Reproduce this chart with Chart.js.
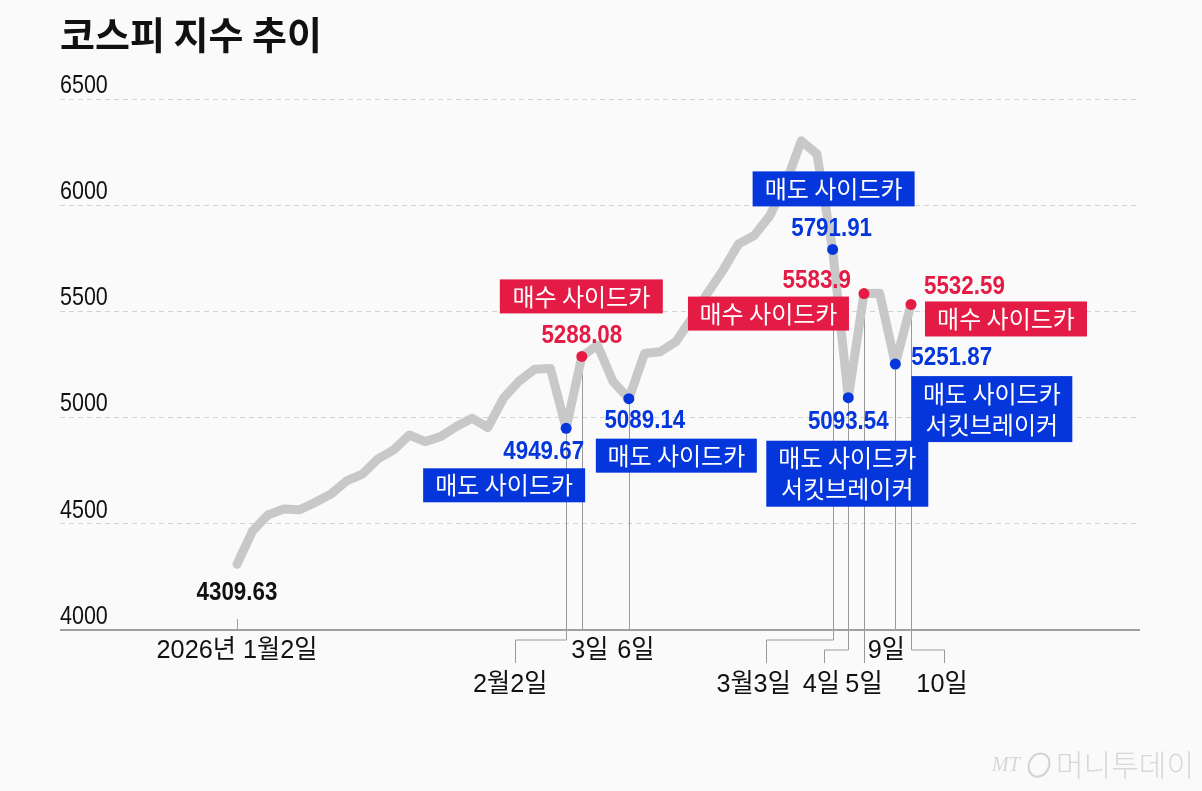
<!DOCTYPE html>
<html>
<head>
<meta charset="utf-8">
<title>코스피 지수 추이</title>
<script src="https://cdn.jsdelivr.net/npm/chart.js@4.4.1/dist/chart.umd.min.js"></script>
<style>
  body { margin: 0; background: #fafafa; }
  #wrap { position: relative; width: 1202px; height: 791px; }
</style>
</head>
<body>
<div id="wrap"><canvas id="kospiChart"></canvas></div>
<script>
// trading days, 2026-01-02 .. 2026-03-10
const dates = [
  '1/2', '1/5', '1/6', '1/7', '1/8', '1/9', '1/12', '1/13', '1/14', '1/15', '1/16',
  '1/19', '1/20', '1/21', '1/22', '1/23', '1/26', '1/27', '1/28', '1/29', '1/30',
  '2/2', '2/3', '2/4', '2/5', '2/6', '2/9', '2/10', '2/11', '2/12', '2/13',
  '2/19', '2/20', '2/23', '2/24', '2/25', '2/26', '2/27',
  '3/3', '3/4', '3/5', '3/6', '3/9', '3/10'
];
const kospi = [
  4309.63, 4467, 4543, 4570, 4566, 4601, 4640, 4702, 4734, 4806, 4848,
  4918, 4887, 4911, 4958, 4997, 4953, 5091, 5172, 5228, 5231,
  4949.67, 5288.08, 5341, 5169, 5089.14, 5302, 5310, 5357, 5466, 5584,
  5693, 5818, 5857, 5951, 6100, 6303, 6241,
  5791.91, 5093.54, 5583.9, 5585, 5251.87, 5532.59
];
const yTicks = [4000, 4500, 5000, 5500, 6000, 6500];

// sidecar / circuit breaker days
const markIdx  = [21, 22, 25, 38, 39, 40, 42, 43];
const markKind = ['sell', 'buy', 'sell', 'sell', 'sell', 'buy', 'sell', 'buy'];
const markBox  = [
  '매도 사이드카', '매수 사이드카', '매도 사이드카', '매도 사이드카',
  '매도 사이드카\n서킷브레이커', '매수 사이드카', '매도 사이드카\n서킷브레이커', '매수 사이드카'
];

// date captions under the axis
const dayText = ['2026년 1월2일', '2월2일', '3일', '6일', '3월3일', '4일', '5일', '9일', '10일'];
const dayIdx  = [0, 21, 22, 25, 38, 39, 40, 42, 43];

const BLUE = '#0536dc';
const RED = '#e31b45';
const NUM_FONT = "bold 26px 'Liberation Sans', sans-serif";
const TXT_FONT = "26px 'Liberation Sans', 'Noto Sans CJK KR', sans-serif";
const BOX_FONT = "24px 'Noto Sans CJK KR', sans-serif";

// label placement relative to the point (pixels): number anchor, box rect
const markLayout = [
  { nx: 18, ny: 24, na: 'right', bx: -143, by: 40, bw: 162, bh: 34 },
  { nx: 0, ny: -21, na: 'center', bx: -82, by: -77, bw: 163, bh: 34 },
  { nx: 16, ny: 22, na: 'center', bx: -33, by: 40, bw: 161, bh: 34 },
  { nx: -1, ny: -21, na: 'center', bx: -80, by: -78, bw: 162, bh: 35 },
  { nx: 0, ny: 24, na: 'center', bx: -82, by: 43, bw: 162, bh: 66 },
  { nx: -13, ny: -13, na: 'right', bx: -176, by: 3, bw: 161, bh: 34 },
  { nx: 16, ny: -6, na: 'left', bx: 16, by: 12, bw: 161, bh: 66 },
  { nx: 13, ny: -18, na: 'left', bx: 14, by: -3, bw: 162, bh: 35 }
];
// leader line below axis: drop (px below axis), elbow dx, text dx / row
const dayLayout = [
  { tick: true, tx: 0, row: 0 },
  { drop: 10, ex: -51, tx: -56, row: 1 },
  { drop: 0, tx: 8, row: 0 },
  { drop: 0, tx: 7, row: 0 },
  { drop: 10, ex: -67, tx: -79, row: 1 },
  { drop: 20, ex: -24, tx: -27, row: 1 },
  { drop: 33, ex: 0, tx: 0, row: 1 },
  { drop: 0, tx: -9, row: 0 },
  { drop: 20, ex: 33, tx: 31, row: 1 }
];

// condensed look: squeeze text horizontally by sx
function text(ctx, str, x, y, font, color, align, sx) {
  ctx.save();
  ctx.translate(x, y);
  ctx.scale(sx || 1, 1);
  ctx.font = font;
  ctx.fillStyle = color;
  ctx.textAlign = align || 'center';
  ctx.textBaseline = 'middle';
  ctx.fillText(str, 0, 0);
  ctx.restore();
}

const annotations = {
  id: 'annotations',
  beforeDatasetsDraw(chart) {
    const ctx = chart.ctx;
    const xs = chart.scales.x, ys = chart.scales.y;
    const bottom = chart.chartArea.bottom;
    ctx.save();
    ctx.strokeStyle = '#9a9a9a';
    ctx.lineWidth = 1;
    dayIdx.forEach((idx, k) => {
      const L = dayLayout[k];
      const px = Math.round(xs.getPixelForValue(idx)) + 0.5;
      ctx.beginPath();
      if (L.tick) {
        ctx.moveTo(px, bottom - 11);
        ctx.lineTo(px, bottom);
      } else {
        ctx.moveTo(px, ys.getPixelForValue(kospi[idx]));
        ctx.lineTo(px, bottom + L.drop);
        if (L.drop > 0) {
          ctx.lineTo(px + L.ex, bottom + L.drop);
          ctx.lineTo(px + L.ex, bottom + 33);
        }
      }
      ctx.stroke();
    });
    ctx.restore();
  },
  afterDatasetsDraw(chart) {
    const ctx = chart.ctx;
    const xs = chart.scales.x, ys = chart.scales.y;
    const area = chart.chartArea;
    const bottom = area.bottom;
    ctx.save();

    // axis line
    ctx.strokeStyle = '#a0a0a0';
    ctx.lineWidth = 2;
    ctx.beginPath();
    ctx.moveTo(area.left, bottom);
    ctx.lineTo(area.right, bottom);
    ctx.stroke();

    // first value
    text(ctx, String(kospi[0]), xs.getPixelForValue(0), ys.getPixelForValue(kospi[0]) + 29, NUM_FONT, '#111', 'center', 0.86);

    markIdx.forEach((idx, k) => {
      const L = markLayout[k];
      const color = markKind[k] === 'buy' ? RED : BLUE;
      const px = xs.getPixelForValue(idx);
      const py = ys.getPixelForValue(kospi[idx]);

      ctx.fillStyle = color;
      ctx.beginPath();
      ctx.arc(px, py, 5.5, 0, Math.PI * 2);
      ctx.fill();

      text(ctx, String(kospi[idx]), px + L.nx, py + L.ny, NUM_FONT, color, L.na, 0.86);

      ctx.fillStyle = color;
      ctx.fillRect(px + L.bx, py + L.by, L.bw, L.bh);
      const lines = markBox[k].split('\n');
      lines.forEach((ln, j) => {
        const cy = py + L.by + L.bh / 2 + (j - (lines.length - 1) / 2) * 31;
        text(ctx, ln, px + L.bx + L.bw / 2, cy, BOX_FONT, '#fff');
      });
    });

    dayIdx.forEach((idx, k) => {
      const L = dayLayout[k];
      const px = xs.getPixelForValue(idx);
      const cy = L.row === 0 ? bottom + 21 : bottom + 55;
      text(ctx, dayText[k], px + L.tx, cy, TXT_FONT, '#111', 'center', 0.97);
    });

    // y tick labels, sitting above their grid lines
    yTicks.forEach(v => {
      text(ctx, String(v), area.left, ys.getPixelForValue(v) - 13, "25px 'Liberation Sans', sans-serif", '#111', 'left', 0.86);
    });

    // title
    text(ctx, '코스피 지수 추이', 60, 35, "bold 38px 'Noto Sans CJK KR', sans-serif", '#111', 'left', 1);

    // credit
    ctx.font = "italic 20px 'Liberation Serif', serif";
    ctx.fillStyle = '#d6d6d6';
    ctx.textAlign = 'left';
    ctx.textBaseline = 'middle';
    ctx.fillText('MT', 992, 766);
    ctx.strokeStyle = '#d2d2d2';
    ctx.lineWidth = 2;
    ctx.beginPath();
    ctx.ellipse(1039, 765, 10, 12, 0.5, 0, Math.PI * 2);
    ctx.stroke();
    text(ctx, '머니투데이', 1056, 765, "300 30px 'Noto Sans CJK KR', sans-serif", '#d8d8d8', 'left');
    ctx.restore();
  }
};

new Chart(document.getElementById('kospiChart'), {
  type: 'line',
  data: {
    labels: dates,
    datasets: [{
      label: '코스피',
      data: kospi.map((v, i) => ({ x: i, y: v })),
      borderColor: '#c8c8c8',
      borderWidth: 9,
      borderJoinStyle: 'round',
      borderCapStyle: 'round',
      pointRadius: 0,
      tension: 0,
      fill: false
    }]
  },
  options: {
    responsive: true,
    maintainAspectRatio: false,
    animation: false,
    layout: { padding: { left: 60, right: 62, top: 99, bottom: 161 } },
    scales: {
      x: {
        type: 'linear',
        display: false,
        min: -11.29,
        max: 57.61
      },
      y: {
        min: 4000,
        max: 6500,
        afterBuildTicks: axis => { axis.ticks = yTicks.map(v => ({ value: v })); },
        border: { display: false, dash: [5, 4] },
        grid: {
          drawTicks: false,
          color: c => c.tick && c.tick.value === 4000 ? 'rgba(0,0,0,0)' : '#d2d2d2',
          lineWidth: 1
        },
        ticks: { display: false }
      }
    },
    plugins: {
      legend: { display: false },
      tooltip: { enabled: false }
    }
  },
  plugins: [annotations]
});
</script>
</body>
</html>
